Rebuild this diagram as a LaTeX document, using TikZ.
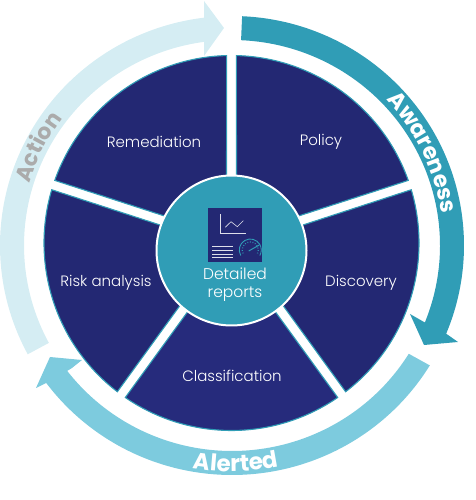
\documentclass[tikz,border=0pt]{standalone}
\usepackage{fontspec}
\setmainfont{Poppins}
\newfontfamily\lightf{Poppins Light}
\usetikzlibrary{decorations.text,calc}
\definecolor{navy}{HTML}{232873}
\definecolor{navyb}{HTML}{262B7C}
\definecolor{teal}{HTML}{309DB6}
\definecolor{pale}{HTML}{D5EDF3}
\definecolor{sky}{HTML}{7DCBDE}
\definecolor{actgray}{HTML}{ABABAB}
\newcommand{\wedgeat}[2]{% bisector angle, fill
  \path[wedgebox,fill=#2] (#1:8.5pt) -- (#1+36-1.5:187.5pt) arc[start angle=#1+36-1.5,end angle=#1-36+1.5,radius=187.5pt] -- cycle;}
\tikzset{
  wedgebox/.style={draw=teal,line width=1.1pt,line join=miter},
  seglabel/.style={text=white,font=\lightf\fontsize{15}{17}\selectfont,inner sep=0pt},
  bandtext/.style={decorate,decoration={text along path,text align=center,text={#1}}},
}
\begin{document}
\begin{tikzpicture}[x=1pt,y=1pt]
\useasboundingbox (0,0) rectangle (475,500);
% rings
\coordinate (c) at (232,254.5);
\fill[teal] ($(c)+(87.5:232pt and 229.5pt)$) arc[start angle=87.5,end angle=-22.6,x radius=232pt,y radius=229.5pt]
  -- (458,158) -- (424,155) -- (410,186) -- ($(c)+(-22:208pt and 205.5pt)$)
  arc[start angle=-22,end angle=87.5,x radius=208pt,y radius=205.5pt] -- cycle;
\fill[sky] ($(c)+(-31.5:232pt and 229.5pt)$) arc[start angle=-31.5,end angle=-143.2,x radius=232pt,y radius=229.5pt]
  -- (36,112) -- (50,143) -- (82,140) -- (72,132) -- ($(c)+(-142.4:208pt and 205.5pt)$)
  arc[start angle=-142.4,end angle=-31.8,x radius=208pt,y radius=205.5pt] -- cycle;
\fill[pale] ($(c)+(208.3:232pt and 229.5pt)$) arc[start angle=208.3,end angle=96.9,x radius=232pt,y radius=229.5pt]
  -- (204,499) -- (224,472) -- (204,444) -- ($(c)+(97.7:208pt and 205.5pt)$)
  arc[start angle=97.7,end angle=208.3,x radius=208pt,y radius=205.5pt] -- cycle;
% band texts
\path[bandtext={|\fontsize{22.5}{24}\selectfont\bfseries\color{white}|Awareness}] ($(c)+(72:212pt)$) arc[start angle=72,end angle=-20,radius=212pt];
\path[bandtext={|\fontsize{23}{24}\selectfont\bfseries\color{white}|Alerted}] ($(c)+(-124:226pt)$) arc[start angle=-124,end angle=-54,radius=226pt];
\path[bandtext={|\fontsize{22}{24}\selectfont\bfseries\color{actgray}|Action}] ($(c)+(191:212pt)$) arc[start angle=191,end angle=115,radius=212pt];
% wedges
\begin{scope}[shift={(231.5,257)}]
\wedgeat{54}{navy}
\wedgeat{126}{navy}
\wedgeat{198}{navy}
\wedgeat{-18}{navy}
\wedgeat{-90}{navyb}
\end{scope}
% centre
\fill[teal,draw=white,line width=2pt] (231.5,249.5) circle[radius=75pt];
% icon
\fill[navy] (208,238) rectangle (262,292);
\draw[white!85!navy,line width=1pt] (220,285.7) -- (220,266) -- (246,266);
\draw[white!85!navy,line width=.6pt] (225.3,272.7) -- (231,278.3) -- (237.3,273.3) -- (243.3,279.3);
\foreach \yy in {253.3,250,246,242.7} \draw[white!85!navy,line width=.9pt] (212,\yy) -- (233.3,\yy);
\draw[teal,line width=.9pt] (250.3,250) ++(210:11pt) arc[start angle=210,end angle=-30,radius=11pt];
\draw[teal,line width=1.2pt,dash pattern=on .8pt off 1.8pt] (250.3,250) ++(205:8pt) arc[start angle=205,end angle=-25,radius=8pt];
\draw[teal,line width=1pt] (248.7,249) -- (259.3,255);
% labels
\node[seglabel] (rem) at (154,358.5) {Remediation};
\node[seglabel] (pol) at (321,358.5) {Policy};
\node[seglabel] (dis) at (361,217.5) {Discovery};
\node[seglabel] (risk) at (106,217.5) {Risk analysis};
\node[seglabel] (cla) at (232,124.5) {Classification};
\node[seglabel,align=center,font=\lightf\fontsize{15.5}{18}\selectfont] (rep) at (235,215.5) {Detailed\\reports};
\end{tikzpicture}
\end{document}
